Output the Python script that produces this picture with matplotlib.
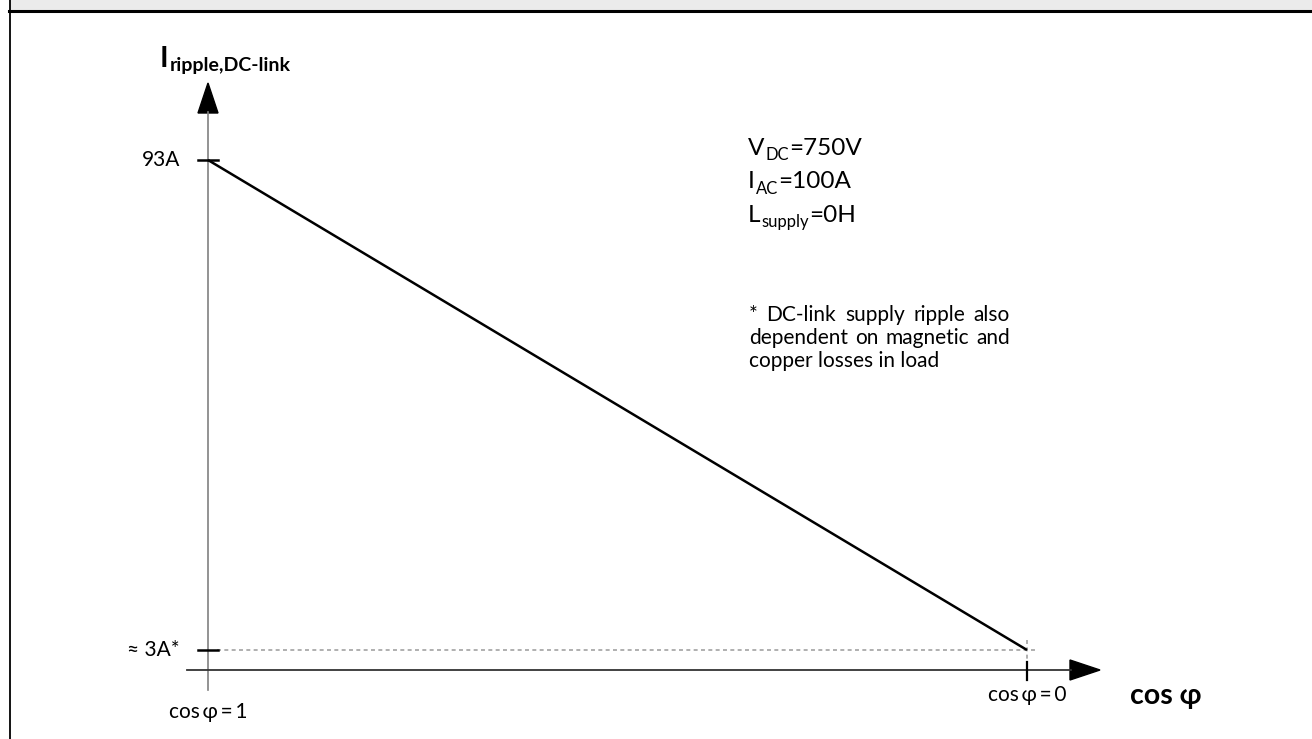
import matplotlib
matplotlib.use('Agg')
import matplotlib.pyplot as plt
from matplotlib.patches import Polygon, Rectangle
from matplotlib.lines import Line2D

plt.rcParams['font.family'] = ['Lato', 'DejaVu Sans']

# data
cos_phi = [1.0, 0.0]
ripple_a = [93, 3]
y_tick_vals = [93, 3]
y_tick_labels = ['93A', '≈ 3A*']
x_tick_vals = [1.0, 0.0]
x_tick_labels = ['cos\u2009φ\u2009=\u20091', 'cos\u2009φ\u2009=\u20090']
param_base = ['V', 'I', 'L']
param_sub = ['DC', 'AC', 'supply']
param_rest = ['=750V', '=100A', '=0H']
footnote = [['*', 'DC-link', 'supply', 'ripple', 'also'],
            ['dependent', 'on', 'magnetic', 'and'],
            ['copper losses in load']]

W, H = 1312, 739
fig = plt.figure(figsize=(W / 100, H / 100), dpi=100)
ax = fig.add_axes([0, 0, 1, 1])
ax.axis('off')

# pixel anchors of the data: cos=1 -> 208, cos=0 -> 1027, 93A -> 160, 3A -> 650
XP1, XP0, YP93, YP3 = 208, 1027, 160, 650
def px_x(px):
    return 1 - (px - XP1) / (XP0 - XP1)
def px_y(py):
    return 3 + (YP3 - py) * 90 / (YP3 - YP93)

ax.set_xlim(px_x(0), px_x(W))
ax.set_ylim(px_y(H), px_y(0))

# frame of the slide
fig.add_artist(Rectangle((10 / W, 1 - 10 / H), 1, 10 / H, transform=fig.transFigure,
                         facecolor='#ebebeb', edgecolor='none'))
fig.add_artist(Line2D([9 / W, 1], [1 - 11 / H, 1 - 11 / H], transform=fig.transFigure,
                      color='black', lw=2.2))
fig.add_artist(Line2D([9.5 / W, 9.5 / W], [0, 1], transform=fig.transFigure,
                      color='black', lw=1.3))

# axes drawn by hand
x_axis_y = px_y(670)
ax.plot([1, 1], [px_y(690), px_y(112)], color='#808080', lw=1.2)
ax.add_patch(Polygon([(1, px_y(83)), (px_x(198), px_y(113)), (px_x(218), px_y(113))],
                     closed=True, color='black'))
ax.plot([px_x(187), px_x(1071)], [x_axis_y, x_axis_y], color='#333333', lw=1.3)
ax.add_patch(Polygon([(px_x(1100), x_axis_y), (px_x(1070), px_y(660)), (px_x(1070), px_y(680))],
                     closed=True, color='black'))

# helper lines at the end point
ax.plot([px_x(217), px_x(1036)], [ripple_a[1], ripple_a[1]], color='#9a9a9a', lw=1.1,
        linestyle=(0, (2.6, 2.2)))
ax.plot([cos_phi[1], cos_phi[1]], [px_y(640), px_y(661)], color='#9a9a9a', lw=1.1,
        linestyle=(0, (2.6, 2.2)))

# the curve
ax.plot(cos_phi, ripple_a, color='black', lw=1.8, solid_capstyle='butt')

# ticks
for v, lab in zip(y_tick_vals, y_tick_labels):
    ax.plot([px_x(198), px_x(218)], [v, v], color='black', lw=1.8)
    ax.text(px_x(180), v, lab, fontsize=15, ha='right', va='center')
ax.plot([0, 0], [px_y(662), px_y(680)], color='black', lw=1.6)
ax.text(1, px_y(712), x_tick_labels[0], fontsize=15, ha='center', va='center')
ax.text(0, px_y(695), x_tick_labels[1], fontsize=15, ha='center', va='center')
ax.text(px_x(1130), px_y(696), 'cos φ', fontsize=20.5, fontweight='bold',
        ha='left', va='center')

def sub_text(xpx, ypx, base, sub, rest, size, sub_size, weight='normal', drop=3):
    t = ax.text(px_x(xpx), px_y(ypx), base, fontsize=size, fontweight=weight,
                ha='left', va='baseline')
    s = ax.annotate(sub, xy=(1, 0), xycoords=(t, t), xytext=(0.5, -drop),
                    textcoords='offset points', fontsize=sub_size, fontweight=weight,
                    ha='left', va='bottom')
    if rest:
        ax.annotate(rest, xy=(1, 0), xycoords=(s, t), xytext=(0.5, 0),
                    textcoords='offset points', fontsize=size, fontweight=weight,
                    ha='left', va='bottom')

# y axis title
sub_text(160, 67, 'I', 'ripple,DC-link', '', 21, 14, weight='bold', drop=1.5)

# parameters
for i, (b, s, r) in enumerate(zip(param_base, param_sub, param_rest)):
    sub_text(748, 155 + i * 33.5, b, s, r, 17.5, 12)

# justified footnote
renderer = fig.canvas.get_renderer()
x_left, x_right = 749, 1010
for i, words in enumerate(footnote):
    ypx = 321 + i * 23
    texts = [ax.text(0, px_y(ypx), w, fontsize=15, ha='left', va='baseline') for w in words]
    if len(words) == 1:
        texts[0].set_x(px_x(x_left))
        continue
    widths = [t.get_window_extent(renderer).width for t in texts]
    gap = (x_right - x_left - sum(widths)) / (len(words) - 1)
    x = x_left
    for t, w in zip(texts, widths):
        t.set_x(px_x(x))
        x += w + gap

fig.savefig('out.png', dpi=100)
